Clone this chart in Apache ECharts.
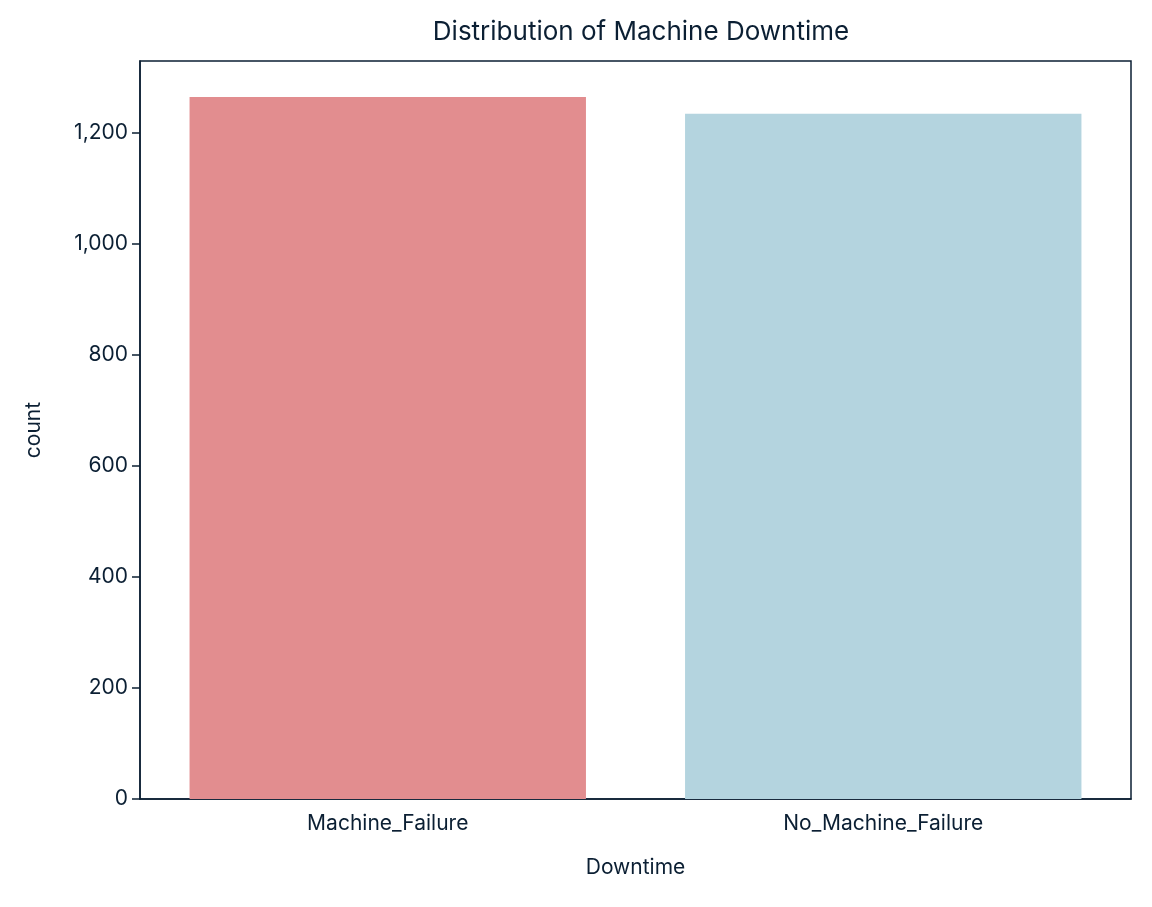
<!DOCTYPE html>
<html><head><meta charset="utf-8">
<script src="https://cdn.jsdelivr.net/npm/echarts@6/dist/echarts.min.js"></script>
<style>html,body{margin:0;padding:0;background:#fff}#c{width:1152px;height:907px}</style>
</head><body><div id="c"></div>
<script>
const categories = ["Machine_Failure", "No_Machine_Failure"];
const counts = [1265, 1235];
const barColors = ["#E28D8F", "#B4D4DF"];
const yTicks = [0, 200, 400, 600, 800, 1000, 1200];
const txt = "#0B1F33";
const chart = echarts.init(document.getElementById('c'));
chart.setOption({
  animation: false,
  textStyle: {fontFamily: "Inter"},
  title: {text: "Distribution of Machine Downtime", left: 636, top: 14, textAlign: "center",
    textStyle: {fontSize: 26, fontWeight: "normal", color: txt, fontFamily: "Inter"}},
  grid: {left: 140, right: 21, top: 61, bottom: 108},
  xAxis: {type: "category", data: categories, name: "Downtime", nameLocation: "middle", nameGap: 58,
    nameTextStyle: {fontSize: 21, color: txt},
    axisLine: {lineStyle: {color: txt, width: 1.5}},
    axisTick: {alignWithLabel: true, interval: 0, length: 8, lineStyle: {color: txt, width: 1.5}},
    axisLabel: {fontSize: 21, color: txt, margin: 14, interval: 0}},
  yAxis: {type: "value", min: 0, max: 1330, name: "count", nameLocation: "middle", nameGap: 96,
    nameTextStyle: {fontSize: 21, color: txt},
    axisLine: {show: true, lineStyle: {color: txt, width: 1.5}},
    axisTick: {show: true, length: 8, customValues: yTicks, lineStyle: {color: txt, width: 1.5}},
    axisLabel: {fontSize: 21, color: txt, margin: 12, customValues: yTicks},
    splitLine: {show: false}},
  series: [{type: "bar", barWidth: "80%",
    data: counts.map((v, i) => ({value: v, itemStyle: {color: barColors[i]}}))}],
  graphic: [{type: "rect", shape: {x: 140, y: 61, width: 991, height: 738},
    style: {fill: "none", stroke: txt, lineWidth: 1.5}, silent: true}]
});
</script></body></html>
